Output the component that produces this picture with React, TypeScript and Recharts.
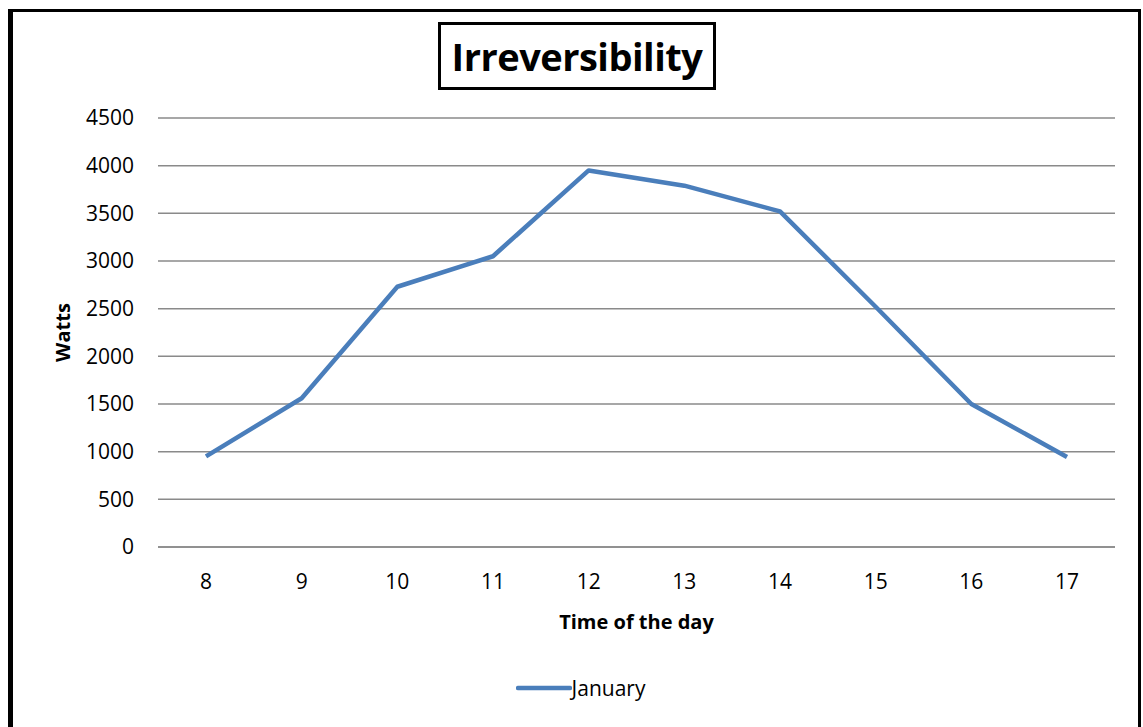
import React from 'react';
import { LineChart, Line, XAxis, YAxis, CartesianGrid, Legend } from 'recharts';

// hourly irreversibility readings for January
const hours = ['8', '9', '10', '11', '12', '13', '14', '15', '16', '17'];
const januaryWatts = [950, 1560, 2730, 3050, 3950, 3790, 3520, 2520, 1500, 945];
const wattTicks = [0, 500, 1000, 1500, 2000, 2500, 3000, 3500, 4000, 4500];

const data = hours.map((h, i) => ({ hour: h, January: januaryWatts[i] }));

const FONT = '"Open Sans", sans-serif';
const BLUE = '#4a7ebb';
const GRID = '#8a8a8a';

const renderLegend = (props: any) => {
  const { payload } = props;
  return (
    <div style={{ display: 'flex', justifyContent: 'center', paddingLeft: 10 }}>
      {payload.map((entry: any) => (
        <div key={entry.value} style={{ display: 'flex', alignItems: 'center' }}>
          <svg width={56} height={10}>
            <line x1={2} y1={5} x2={54} y2={5} stroke={BLUE} strokeWidth={4.5} strokeLinecap="round" />
          </svg>
          <span style={{ fontFamily: FONT, fontSize: 21, color: '#000' }}>{entry.value}</span>
        </div>
      ))}
    </div>
  );
};

const WattsLabel = (props: any) => {
  const { viewBox } = props;
  const cx = 49;
  const cy = viewBox.y + viewBox.height / 2;
  return (
    <text
      x={cx}
      y={cy}
      transform={`rotate(-90, ${cx}, ${cy})`}
      textAnchor="middle"
      dominantBaseline="central"
      fontFamily={FONT}
      fontWeight="bold"
      fontSize={20}
      fill="#000"
    >
      Watts
    </text>
  );
};

export default function App() {
  return (
    <div
      style={{
        position: 'fixed',
        left: 8,
        top: 9,
        width: 1125,
        height: 730,
        borderLeft: '5px solid #000',
        borderTop: '3px solid #000',
        borderRight: '3px solid #000',
        background: '#fff',
      }}
    >
      <div
        style={{
          position: 'absolute',
          left: 425,
          top: 10,
          width: 272,
          height: 62,
          border: '3px solid #000',
          display: 'flex',
          alignItems: 'center',
          justifyContent: 'center',
          fontFamily: FONT,
          fontWeight: 'bold',
          fontSize: 38,
          letterSpacing: -0.5,
          color: '#000',
          zIndex: 2,
        }}
      >
        Irreversibility
      </div>
      <LineChart
        width={1125}
        height={715}
        data={data}
        margin={{ top: 106, right: 23, bottom: 90, left: 60 }}
      >
        <CartesianGrid vertical={false} stroke={GRID} strokeWidth={1.5} />
        <XAxis
          dataKey="hour"
          height={90}
          padding={{ left: 48, right: 48 }}
          axisLine={{ stroke: GRID, strokeWidth: 1.5 }}
          tickLine={false}
          tickSize={18}
          tickMargin={9}
          tick={{ fontFamily: FONT, fontSize: 21, fill: '#000' }}
          label={{
            value: 'Time of the day',
            position: 'insideBottom',
            offset: 8,
            style: { fontFamily: FONT, fontWeight: 'bold', fontSize: 20, fill: '#000' },
          }}
        />
        <YAxis
          width={85}
          domain={[0, 4500]}
          ticks={wattTicks}
          axisLine={false}
          tickLine={false}
          tickSize={16}
          tickMargin={8}
          tick={{ fontFamily: FONT, fontSize: 21, fill: '#000' }}
          label={<WattsLabel />}
        />
        <Legend
          layout="horizontal"
          verticalAlign="middle"
          align="center"
          wrapperStyle={{ top: 662, left: 0, width: 1125 }}
          content={renderLegend}
        />
        <Line
          type="linear"
          dataKey="January"
          stroke={BLUE}
          strokeWidth={4.5}
          strokeLinejoin="round"
          dot={false}
          activeDot={false}
          isAnimationActive={false}
        />
      </LineChart>
    </div>
  );
}
